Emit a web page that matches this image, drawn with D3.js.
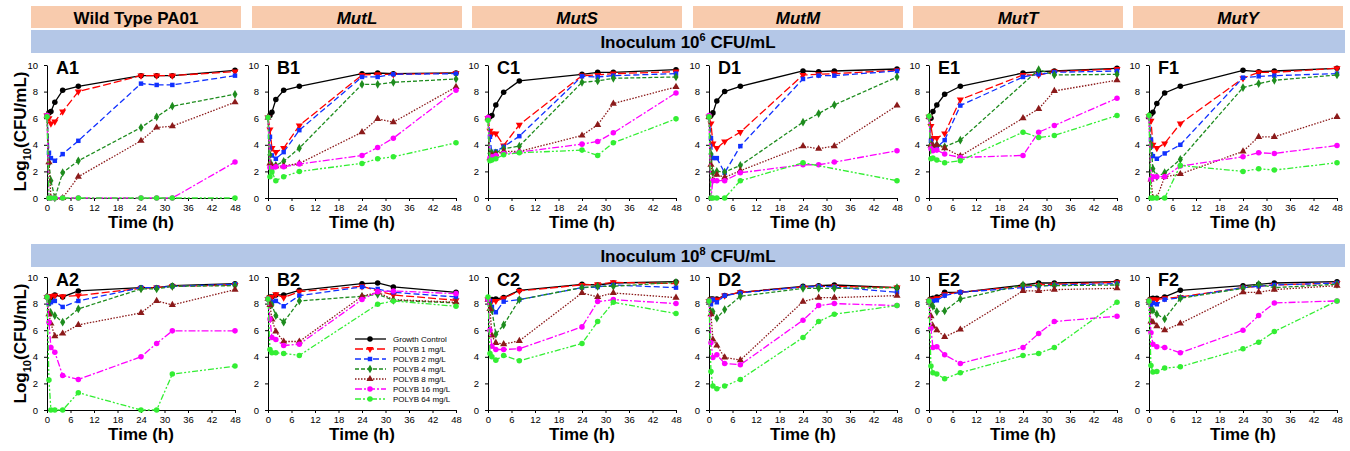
<!DOCTYPE html>
<meta charset="utf-8">
<style>
    body { margin: 0; background: #fff; }
    svg { font-family: Arial, "Liberation Sans", sans-serif; }
    .strain { font-size: 17px; font-weight: bold; text-anchor: middle; }
    .band { font-size: 17px; font-weight: bold; text-anchor: middle; }
    .plabel { font-size: 18px; font-weight: bold; }
    .xtitle { font-size: 17px; font-weight: bold; text-anchor: middle; }
    .ytitle { font-size: 17px; font-weight: bold; text-anchor: middle; }
    .legend text { font-size: 8px; }
</style>
<body>
<svg id="chart" width="1350" height="451"></svg>
<script src="https://d3js.org/d3.v7.min.js"></script>
<script>
// sampling times (h)
var times = [0, 0.5, 1, 2, 4, 8, 24, 28, 32, 48];
var seriesNames = ["Growth Control", "POLYB 1 mg/L", "POLYB 2 mg/L", "POLYB 4 mg/L",
                   "POLYB 8 mg/L", "POLYB 16 mg/L", "POLYB 64 mg/L"];
var strains = ["Wild Type PA01", "MutL", "MutS", "MutM", "MutT", "MutY"];
var inocula = ["6", "8"];
var panelLetters = ["A", "B", "C", "D", "E", "F"];
var xTicks = [0, 6, 12, 18, 24, 30, 36, 42, 48];
var yTicks = [0, 2, 4, 6, 8, 10];

// log10 CFU/mL, one row per series (GC, 1, 2, 4, 8, 16, 64 mg/L)
var wt6 = [
    [6.2, 6.4, 6.5, 7.2, 8.1, 8.4, 9.2, 9.2, 9.2, 9.6],
    [6.2, 6.0, 5.6, 5.75, 6.5, 8.0, 9.2, 9.2, 9.2, 9.5],
    [6.2, 3.4, 3.0, 2.8, 3.3, 4.3, 8.6, 8.5, 8.5, 9.2],
    [6.2, 2.6, 1.3, 0, 1.9, 2.8, 5.3, 6.1, 6.9, 7.8],
    [6.2, 2.7, 0, 0, 0, 1.6, 4.3, 5.3, 5.4, 7.2],
    [6.2, 0, 0, 0, 0, 0, 0, 0, 0, 2.7],
    [6.1, 0, 0, 0, 0, 0, 0, 0, 0, 0]
];
var mutL6 = [
    [6.05, 6.2, 6.45, 7.4, 8.1, 8.4, 9.35, 9.4, 9.35, 9.4],
    [6.05, 5.15, 3.75, 3.45, 3.75, 5.45, 9.25, 9.3, 9.3, 9.4],
    [6.05, 4.6, 3.2, 2.95, 3.45, 5.1, 9.1, 9.1, 9.3, 9.35],
    [6.05, 3.25, 2.45, 2.45, 2.75, 3.75, 8.55, 8.55, 8.7, 8.95],
    [6.05, 2.6, 2.4, 2.4, 2.4, 2.6, 4.95, 5.95, 5.7, 8.35],
    [6.05, 2.3, 2.2, 2.35, 2.35, 2.55, 3.2, 3.8, 4.5, 8.1],
    [6.05, 1.6, 1.95, 1.3, 1.6, 2.0, 2.6, 2.95, 3.1, 4.15]
];
var mutS6 = [
    [6.0, 6.1, 6.2, 7.0, 7.95, 8.8, 9.3, 9.45, 9.45, 9.65],
    [6.0, 5.05, 4.85, 4.85, 3.95, 5.5, 9.2, 9.25, 9.35, 9.5],
    [6.0, 4.6, 3.3, 3.5, 3.85, 4.65, 9.15, 9.1, 9.2, 9.35],
    [6.0, 3.35, 3.4, 3.4, 3.7, 3.9, 8.7, 8.8, 9.0, 9.1],
    [6.0, 3.0, 3.2, 3.3, 3.5, 3.5, 4.7, 5.5, 7.1, 8.35],
    [6.05, 3.0, 3.1, 3.2, 3.35, 3.45, 4.05, 4.25, 4.9, 7.9],
    [5.85, 2.8, 2.85, 2.95, 3.25, 3.4, 3.6, 3.2, 4.15, 5.95]
];
var mutM6 = [
    [6.1, 6.2, 6.4, 7.3, 8.0, 8.4, 9.55, 9.5, 9.55, 9.7],
    [6.1, 5.6, 4.1, 3.75, 4.25, 4.95, 9.25, 9.3, 9.35, 9.6],
    [6.1, 4.5, 3.0, 3.0, 1.9, 3.9, 8.95, 9.2, 9.2, 9.55],
    [6.1, 3.3, 1.9, 2.0, 1.95, 2.45, 5.7, 6.35, 7.0, 9.1],
    [6.1, 2.5, 1.3, 1.75, 1.55, 2.05, 3.9, 3.7, 3.9, 6.95],
    [6.2, 0, 1.3, 1.3, 1.3, 1.9, 2.5, 2.5, 2.7, 3.55],
    [6.1, 0, 0, 0, 0, 1.3, 2.65, null, null, 1.3]
];
var mutT6 = [
    [6.1, 6.0, 6.5, 7.0, 7.8, 8.4, 9.4, 9.5, 9.55, 9.75],
    [6.1, 5.4, 4.5, 4.5, 4.85, 7.4, 9.25, 9.25, 9.5, 9.7],
    [6.1, 4.3, 3.9, 3.8, 4.35, 6.95, 9.1, 9.3, 9.45, 9.55],
    [6.1, 4.0, 3.9, 4.0, 3.85, 4.35, null, 9.65, 9.25, 9.3],
    [6.1, 3.95, 3.95, 4.0, 3.75, 3.15, 6.0, 6.7, 8.05, 8.85],
    [6.1, 3.7, 3.55, 3.6, 3.3, 3.05, 3.2, 4.95, 5.45, 7.5],
    [6.15, 2.95, 3.0, 2.85, 2.65, 2.8, 4.95, 4.55, 4.7, 6.2]
];
var mutY6 = [
    [6.15, 6.3, 6.45, 7.1, 7.9, 8.4, 9.6, 9.5, 9.55, 9.75],
    [6.15, 5.8, 4.0, 3.75, 4.1, 5.6, 9.0, 9.45, 9.45, 9.75],
    [6.15, 4.4, 3.15, 2.95, 3.35, 4.0, 9.05, 9.15, 9.2, 9.35],
    [6.15, 4.0, 2.2, 1.6, 1.9, 2.9, 8.3, 8.6, 8.85, 9.25],
    [6.15, 1.4, 0, 0, 1.6, 1.8, 3.5, 4.6, 4.6, 6.1],
    [6.15, 1.4, 1.6, 1.6, 1.6, 2.4, 3.1, 3.4, 3.35, 3.95],
    [6.2, 0, 0, 0, 0, 2.45, 2.0, 2.2, 2.1, 2.65]
];
var wt8 = [
    [8.5, 8.5, 8.45, 8.65, 8.5, 8.95, 9.2, 9.2, 9.35, 9.5],
    [8.5, 8.55, 8.55, 8.6, 8.55, 8.6, 9.15, 9.2, 9.3, 9.4],
    [8.5, 8.0, 8.1, 8.2, 7.75, 8.2, 9.2, 9.2, 9.3, 9.45],
    [8.5, 8.2, 7.3, 7.1, 6.6, 7.6, 9.1, 9.1, 9.3, 9.35],
    [8.5, 7.2, 6.5, 5.55, 5.75, 6.4, 7.3, 8.2, 7.9, 9.05],
    [8.5, 6.6, 4.7, 4.35, 2.6, 2.3, 4.0, 5.0, 5.95, 5.95],
    [8.5, 2.25, 0, 0, 0, 1.3, 0, 0, 2.7, 3.3]
];
var mutL8 = [
    [8.35, 8.5, 8.5, 8.65, 8.65, 9.0, 9.5, 9.55, 9.25, 8.85],
    [8.35, 8.5, 8.5, 8.7, 8.45, 8.9, 9.3, 8.95, 8.65, 8.25],
    [8.35, 8.2, 8.1, 8.2, 7.8, 8.6, 9.25, 9.1, 8.85, 8.5],
    [8.35, 7.95, 7.9, 7.1, 6.6, 8.2, 8.55, 8.7, 8.25, 8.05],
    [8.35, 7.9, 6.8, 5.9, 5.15, 5.15, 8.55, 8.85, 8.3, 8.1],
    [8.35, 6.85, 5.45, 5.3, 4.85, 4.95, 8.3, 8.9, 8.95, 8.75],
    [8.35, 4.55, 4.3, 4.3, 4.25, 4.1, null, 7.95, 8.2, 7.8]
];
var mutS8 = [
    [8.3, 8.2, 8.3, 8.35, 8.45, 9.0, 9.45, 9.4, 9.55, 9.65],
    [8.3, 8.1, 8.2, 8.2, 8.4, 8.95, 9.4, 9.45, 9.6, 9.5],
    [8.3, 8.2, 7.75, 7.35, 8.15, 8.3, 9.2, 9.25, 9.4, 9.2],
    [8.3, 7.9, 7.5, 5.7, 6.4, 8.3, 9.2, 9.3, 9.3, 9.6],
    [8.3, 7.6, 5.6, 5.05, 4.95, 5.2, 8.8, 8.5, 8.8, 8.45],
    [8.3, 6.0, 4.8, 4.55, 4.55, 4.6, 6.25, 8.15, 8.3, 8.0],
    [8.5, 4.25, 4.0, 3.75, 4.1, 3.7, 5.0, 6.65, 8.1, 7.25]
];
var mutM8 = [
    [8.2, 8.35, 8.35, 8.35, 8.6, 8.85, 9.3, 9.35, 9.4, 9.2],
    [8.2, 8.3, 8.3, 8.3, 8.6, 8.85, 9.25, 9.3, 9.3, 9.2],
    [8.2, 7.95, 8.3, 8.1, 8.6, 8.8, 9.25, 9.3, 9.25, 8.85],
    [8.2, 7.4, 7.4, 6.9, 7.55, 8.55, 9.15, 9.15, 9.15, 9.2],
    [8.2, 7.2, 5.3, 4.85, 3.95, 3.75, 8.15, 8.45, 8.45, 8.6],
    [8.2, 5.05, 3.95, 4.15, 3.5, 3.4, 6.75, 7.85, 8.0, 7.85],
    [8.2, 2.9, 1.8, 1.6, 1.8, 2.3, 5.45, 6.65, 7.2, 7.85]
];
var mutT8 = [
    [8.2, 8.35, 8.4, 8.5, 8.85, 8.85, 9.4, 9.55, 9.55, 9.65],
    [8.2, 8.3, 8.3, 8.4, 8.7, 8.85, 9.3, 9.4, 9.45, 9.6],
    [8.2, 8.15, 8.2, 8.25, 8.6, 8.85, 9.2, 9.3, 9.4, 9.5],
    [8.2, 8.0, 7.8, 7.4, 7.45, 8.35, 9.4, 9.35, 9.35, 9.4],
    [8.2, 7.05, 6.3, 6.0, 5.5, 6.05, 8.95, 8.95, 9.05, 9.15],
    [8.2, 6.15, 4.7, 4.75, 4.15, 3.5, 4.7, 5.75, 6.65, 7.05],
    [8.2, 3.3, 2.8, 2.7, 2.35, 2.8, 4.1, 4.25, 4.7, 8.1]
];
var mutY8 = [
    [8.2, 8.35, 8.4, 8.4, 8.5, 9.0, 9.35, 9.45, 9.55, 9.65],
    [8.2, 8.3, 8.3, 8.3, 8.4, 8.5, 9.2, 9.3, 9.4, 9.55],
    [8.2, 7.9, 8.05, 7.95, 8.3, 8.45, 9.2, 9.3, 9.4, 9.55],
    [8.2, 7.5, 7.5, 7.2, 6.85, 8.4, 9.15, 9.45, 9.2, 9.45],
    [8.2, 6.65, 6.6, 6.3, 6.0, 6.5, 8.85, 8.85, 9.05, 9.35],
    [8.2, 5.8, 4.95, 4.75, 4.7, 4.3, 6.0, 7.1, 8.05, 8.2],
    [8.2, 3.35, 2.85, 2.9, 3.15, 3.25, 4.6, 5.1, 5.9, 8.2]
];

var rows = [
    [wt6, mutL6, mutS6, mutM6, mutT6, mutY6],
    [wt8, mutL8, mutS8, mutM8, mutT8, mutY8]
];

// series look
var colors = ["#000000", "#ff0000", "#1030ff", "#1e8c1e", "#8b1a1a", "#ff00ff", "#33ee33"];
var dashes = [null, "8,3", "6,3", "4,2", "1.5,1.5", "7,2,2,2", "6,2,2,2,2,2"];
var symbols = [d3.symbolCircle, d3.symbolTriangle, d3.symbolSquare, d3.symbolDiamond,
               d3.symbolTriangle, d3.symbolCircle, d3.symbolCircle];
var symSize = [24, 22, 20, 22, 22, 24, 24];

var svg = d3.select("#chart");

var panelX = [47, 268, 488, 709, 929, 1149],
    plotW = 188,
    rowY = [{top: 65, bottom: 198, band: 30}, {top: 277, bottom: 410, band: 244}];

// strain headers
strains.forEach(function(s, i) {
    svg.append("rect")
        .attr("x", panelX[i] - 16).attr("y", 6)
        .attr("width", 210).attr("height", 22)
        .attr("fill", "#f8cbad");
    svg.append("text")
        .attr("class", "strain")
        .attr("x", panelX[i] - 16 + 105).attr("y", 24)
        .style("font-style", i === 0 ? "normal" : "italic")
        .text(s);
});

rows.forEach(function(row, r) {
    var ry = rowY[r];

    // inoculum band
    svg.append("rect")
        .attr("x", 31).attr("y", ry.band)
        .attr("width", 1314).attr("height", 23)
        .attr("fill", "#b4c7e7");
    var bt = svg.append("text")
        .attr("class", "band")
        .attr("x", 688).attr("y", ry.band + 18);
    bt.append("tspan").text("Inoculum 10");
    bt.append("tspan").attr("font-size", "11px").attr("dy", -7).text(inocula[r]);
    bt.append("tspan").attr("dy", 7).text(" CFU/mL");

    var y = d3.scaleLinear().domain([0, 10]).range([ry.bottom, ry.top]);

    // y title only on first column
    var yt = svg.append("text")
        .attr("class", "ytitle")
        .attr("transform", "translate(26," + (ry.top + ry.bottom) / 2 + ") rotate(-90)");
    yt.append("tspan").text("Log");
    yt.append("tspan").attr("font-size", "11px").attr("dy", 5).text("10");
    yt.append("tspan").attr("dy", -5).text("(CFU/mL)");

    row.forEach(function(panel, p) {
        var x = d3.scaleLinear().domain([0, 48]).range([panelX[p], panelX[p] + plotW]);
        var g = svg.append("g");

        var yAxis = g.append("g")
            .attr("transform", "translate(" + panelX[p] + ",0)")
            .call(d3.axisLeft(y).tickValues(yTicks).tickSize(3).tickSizeOuter(0).tickPadding(6));
        var xAxis = g.append("g")
            .attr("transform", "translate(0," + ry.bottom + ")")
            .call(d3.axisBottom(x).tickValues(xTicks).tickSize(3).tickSizeOuter(0).tickPadding(3));
        g.selectAll(".tick text")
            .attr("font-size", 9.5)
            .attr("font-family", "Arial, 'Liberation Sans', sans-serif");

        g.append("text")
            .attr("class", "xtitle")
            .attr("x", panelX[p] + plotW / 2)
            .attr("y", ry.bottom + 30)
            .text("Time (h)");

        g.append("text")
            .attr("class", "plabel")
            .attr("x", panelX[p] + 9)
            .attr("y", ry.top + 9)
            .text(panelLetters[p] + (r + 1));

        var line = d3.line()
            .x(function(d) { return x(d.t); })
            .y(function(d) { return y(d.v); });

        panel.forEach(function(vals, s) {
            var pts = vals.map(function(v, i) { return {t: times[i], v: v}; })
                .filter(function(d) { return d.v !== null; });

            g.append("path")
                .datum(pts)
                .attr("fill", "none")
                .attr("stroke", colors[s])
                .attr("stroke-width", 1.3)
                .attr("stroke-dasharray", dashes[s])
                .attr("d", line);

            g.selectAll(null)
                .data(pts)
                .enter().append("path")
                .attr("d", d3.symbol().type(symbols[s]).size(symSize[s]))
                .attr("transform", function(d) {
                    return "translate(" + x(d.t) + "," + y(d.v) + ")" + (s === 1 ? " rotate(180)" : "");
                })
                .attr("fill", colors[s]);
        });
    });
});

// legend inside B2
var legend = svg.append("g").attr("class", "legend");
seriesNames.forEach(function(name, s) {
    var ly = 339 + s * 10;
    legend.append("line")
        .attr("x1", 355).attr("x2", 386)
        .attr("y1", ly).attr("y2", ly)
        .attr("stroke", colors[s])
        .attr("stroke-width", 1.3)
        .attr("stroke-dasharray", dashes[s]);
    legend.append("path")
        .attr("d", d3.symbol().type(symbols[s]).size(symSize[s]))
        .attr("transform", "translate(370," + ly + ")" + (s === 1 ? " rotate(180)" : ""))
        .attr("fill", colors[s]);
    legend.append("text")
        .attr("x", 393).attr("y", ly + 3)
        .text(name);
});
</script>
</body>
